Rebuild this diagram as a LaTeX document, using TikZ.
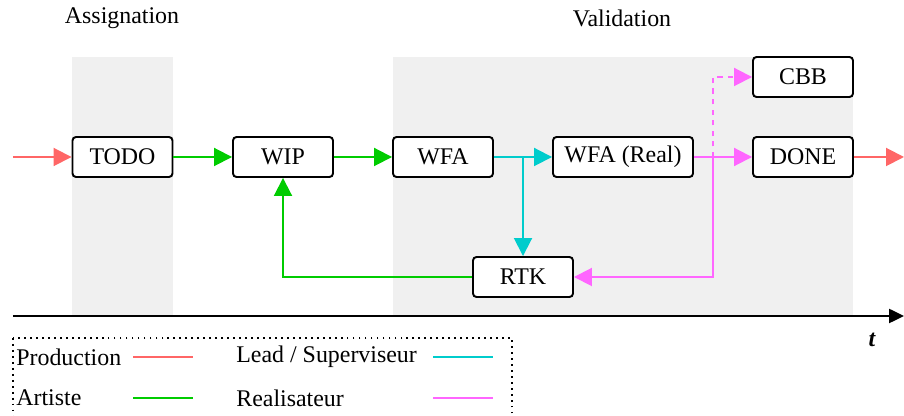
\documentclass[tikz,border=0pt]{standalone}
\usepackage{fontspec}
\setmainfont{Liberation Serif}
\usetikzlibrary{positioning, calc, arrows.meta}

\definecolor{prodred}{HTML}{FF6666}
\definecolor{artgreen}{HTML}{00CC00}
\definecolor{leadcyan}{HTML}{00CCCC}
\definecolor{realmag}{HTML}{FF66FF}
\definecolor{bandgray}{HTML}{F0F0F0}

\tikzset{
    state/.style={draw, rounded corners=2pt, line width=1.1pt, fill=white,
        minimum width=2cm, minimum height=0.8cm, inner sep=0pt},
    flow/.style={line width=1.1pt, -{Triangle[length=0.36cm, width=0.36cm]}},
    keyline/.style={line width=1.1pt},
}

\begin{document}
\begin{tikzpicture}[font=\rmfamily\fontsize{13.6}{16}\selectfont]
    \useasboundingbox (0,0) rectangle (18.08,8.32);
    % phases
    \fill[bandgray] (1.44,2) rectangle (3.46,7.18);
    \fill[bandgray] (7.86,2) rectangle (17.06,7.18);
    \node (assign) at (2.44,7.96) {Assignation};
    \node (valid) at (12.44,7.96) {Validation};

    % time axis
    \coordinate (t0) at (0.26,2);
    \coordinate (t1) at (18.08,2);
    \draw[line width=1.4pt, -{Triangle[length=0.3cm, width=0.28cm]}] (t0) -- (t1);
    \node[font=\rmfamily\fontsize{13.6}{16}\selectfont\bfseries\itshape] (tlabel) at (17.44,1.52) {t};

    % states
    \node[state] (todo) at (2.45,5.18) {TODO};
    \node[state] (wip) at (5.66,5.18) {WIP};
    \node[state] (wfa) at (8.86,5.18) {WFA};
    \node[state, minimum width=2.8cm] (wfareal) at (12.46,5.18) {WFA (Real)};
    \node[state] (done) at (16.06,5.18) {DONE};
    \node[state] (cbb) at (16.06,6.78) {CBB};
    \node[state] (rtk) at (10.46,2.78) {RTK};

    \coordinate (in) at (0.26,5.18);
    \coordinate (out) at (18.08,5.18);
    \coordinate (split) at (10.46,5.18);
    \coordinate (fork) at (14.26,5.18);

    % production
    \draw[flow, prodred] (in) -- (todo);
    \draw[flow, prodred] (done) -- (out);
    % artiste
    \draw[flow, artgreen] (todo) -- (wip);
    \draw[flow, artgreen] (wip) -- (wfa);
    \draw[flow, artgreen] (rtk.west) -| (wip.south);
    % lead
    \draw[flow, leadcyan] (wfa) -- (wfareal);
    \draw[flow, leadcyan] (split) -- (rtk);
    % realisateur
    \draw[flow, realmag] (wfareal) -- (done);
    \draw[flow, realmag] (fork) |- (rtk.east);
    \draw[flow, realmag, dashed] (fork) |- (cbb.west);

    % legend
    \draw[line width=1pt, dash pattern=on 1pt off 2.4pt] (0.26,1.56) rectangle (10.24,-0.06);
    \node[anchor=west, inner sep=0pt] (kprod) at (0.32,1.18) {Production};
    \node[anchor=west, inner sep=0pt] (kart) at (0.32,0.36) {Artiste};
    \node[anchor=west, inner sep=0pt] (klead) at (4.72,1.18) {Lead / Superviseur};
    \node[anchor=west, inner sep=0pt] (kreal) at (4.72,0.36) {Realisateur};
    \draw[keyline, prodred] (2.66,1.18) -- (3.86,1.18);
    \draw[keyline, artgreen] (2.66,0.36) -- (3.86,0.36);
    \draw[keyline, leadcyan] (8.66,1.18) -- (9.86,1.18);
    \draw[keyline, realmag] (8.66,0.36) -- (9.86,0.36);
\end{tikzpicture}
\end{document}
